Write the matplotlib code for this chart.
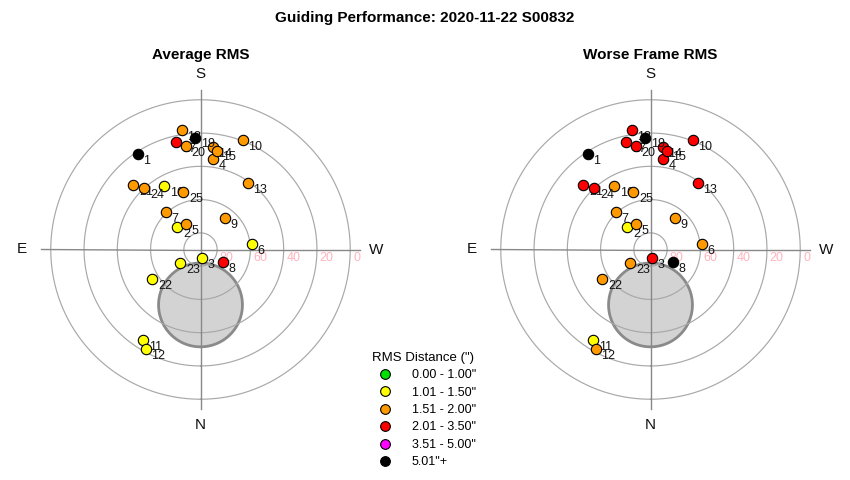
import numpy as np
import matplotlib.pyplot as plt
from matplotlib.lines import Line2D

plt.rcParams['font.family'] = ['Liberation Sans', 'DejaVu Sans']

# guiding frames: position on sky (azimuth / altitude, degrees)
frames = list(range(1, 26))
azimuth = [146.8, 134.5, 348.4, 188.1, 149.6, 264.2, 137.4, 298.8, 218.0, 201.1,
           32.3, 28.8, 215.4, 186.8, 189.3, 150.3, 167.2, 171.1, 177.2, 172.0,
           133.8, 58.8, 56.8, 137.6, 163.3]
altitude = [21.3, 70.5, 84.6, 35.3, 72.5, 59.1, 59.2, 74.8, 65.8, 19.6,
            25.8, 21.9, 41.1, 27.9, 29.7, 46.1, 23.7, 17.4, 22.6, 27.3,
            34.1, 56.2, 75.5, 40.0, 54.0]

# rms class of each frame (index into rms_labels)
avg_class = [5, 1, 1, 2, 2, 1, 2, 3, 2, 2, 1, 1, 2, 2, 2, 1, 3, 2, 5, 2, 2, 1, 1, 2, 2]
worst_class = [5, 1, 3, 3, 2, 2, 2, 5, 2, 3, 1, 2, 3, 3, 3, 2, 3, 3, 5, 3, 3, 2, 2, 3, 2]

rms_labels = ['0.00 - 1.00"', '1.01 - 1.50"', '1.51 - 2.00"',
              '2.01 - 3.50"', '3.51 - 5.00"', '5.01"+']
rms_colors = ['#00e000', '#ffff00', '#ff9900', '#ff0000', '#ff00ff', '#000000']

# moon avoidance zone
moon_az = 0.0
moon_alt = 56.7
moon_radius = 25.2

alt_rings = [80, 60, 40, 20, 0]

fig = plt.figure(figsize=(8.5, 4.8), dpi=100)
fig.text(0.5, 1 - 18 / 480, 'Guiding Performance: 2020-11-22 S00832',
         ha='center', va='center', fontsize=11, weight='bold')


def sky_plot(cx, title, classes):
    R = 183.0
    ax = fig.add_axes([(cx - R) / 850, (480 - 249.5 - R) / 480, 2 * R / 850, 2 * R / 480],
                      projection='polar')
    ax.set_theta_zero_location('S')
    ax.set_theta_direction(-1)
    ax.set_rlim(0, 110)
    ax.grid(False)
    ax.set_xticks([])
    ax.set_yticks([])
    ax.spines['polar'].set_visible(False)

    # moon disk
    x0 = (90 - moon_alt) * np.cos(np.radians(moon_az))
    y0 = (90 - moon_alt) * np.sin(np.radians(moon_az))
    t = np.linspace(0, 2 * np.pi, 400)
    mx = x0 + moon_radius * np.cos(t)
    my = y0 + moon_radius * np.sin(t)
    ax.fill(np.unwrap(np.arctan2(my, mx)), np.hypot(mx, my),
            facecolor='#d3d3d3', edgecolor='#8a8a8a', lw=2, zorder=1)

    th = np.linspace(0, 2 * np.pi, 400)
    for a in alt_rings:
        ax.plot(th, np.full_like(th, 90 - a), color='#a8a8a8', lw=0.85, zorder=2)
        ax.annotate(str(a), xy=(np.radians(270), 90 - a), xytext=(2, -6),
                    textcoords='offset points', color='#ffb3bd', fontsize=9,
                    ha='left', va='center', zorder=2)
    for a in [0, 90, 180, 270]:
        ax.plot([np.radians(a)] * 2, [0, 96], color='#888888', lw=1, zorder=2)

    for a, s, rr in [(180, 'S', 105.6), (0, 'N', 105.6), (90, 'E', 107.5), (270, 'W', 105.5)]:
        ax.text(np.radians(a), rr, s, ha='center', va='center', fontsize=11, color='#111111')

    for i, f in enumerate(frames):
        th_i = np.radians(azimuth[i])
        r_i = 90 - altitude[i]
        ax.scatter(th_i, r_i, s=56, c=rms_colors[classes[i]], edgecolors='black',
                   linewidths=0.8, zorder=3 + i * 0.01)
        ax.annotate(str(f), xy=(th_i, r_i), xytext=(4, -5), textcoords='offset points',
                    fontsize=9, ha='left', va='center', color='#141414',
                    zorder=3.005 + i * 0.01)

    fig.text(cx / 850, 1 - 55 / 480, title, ha='center', va='center',
             fontsize=11, weight='bold')
    return ax


sky_plot(200.5, 'Average RMS', avg_class)
sky_plot(650.5, 'Worse Frame RMS', worst_class)

handles = [Line2D([], [], marker='o', ls='', markerfacecolor=c, markeredgecolor='black',
                  markeredgewidth=0.8, markersize=7) for c in rms_colors]
fig.legend(handles, rms_labels, title='RMS Distance (")', loc='upper left',
           bbox_to_anchor=(367 / 850, 1 - 347 / 480), frameon=False, fontsize=9,
           title_fontsize=9.5, alignment='left', handletextpad=1.2,
           labelspacing=0.43, borderaxespad=0)

fig.savefig('out.png', dpi=100)
